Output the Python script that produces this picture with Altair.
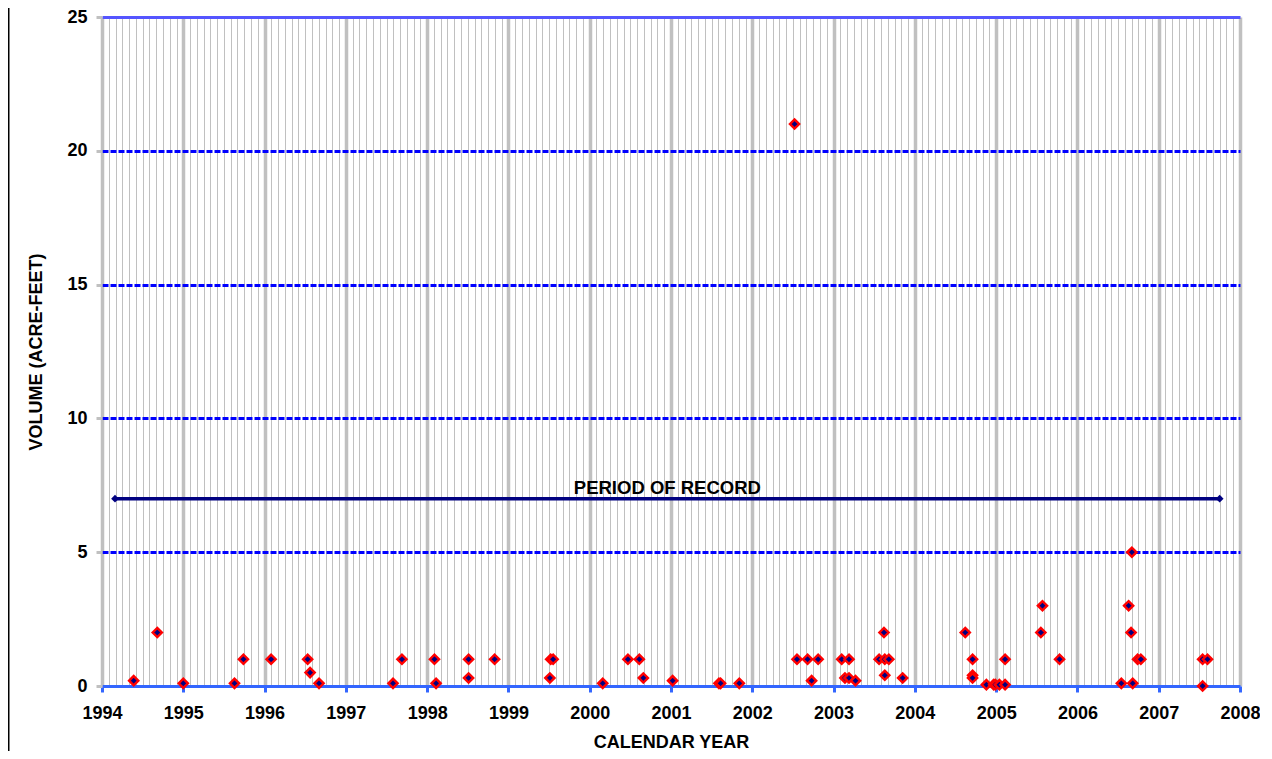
import altair as alt
import pandas as pd

# Data
years = [1994.39, 1994.68, 1995.00, 1995.63, 1995.74, 1996.08, 1996.53, 1996.56, 1996.67,
         1997.58, 1997.69, 1998.09, 1998.11, 1998.51, 1998.51, 1998.83, 1999.52, 1999.55,
         1999.51, 2000.16, 2000.47, 2000.61, 2000.66, 2001.02, 2001.59, 2001.61, 2001.84,
         2002.52, 2002.55, 2002.68, 2002.73, 2002.81, 2003.10, 2003.19, 2003.14, 2003.19,
         2003.27, 2003.56, 2003.62, 2003.63, 2003.63, 2003.68, 2003.85, 2004.62, 2004.71,
         2004.71, 2004.71, 2004.88, 2004.97, 2004.99, 2005.04, 2005.11, 2005.11, 2005.55,
         2005.57, 2005.78, 2006.54, 2006.63, 2006.66, 2006.67, 2006.68, 2006.74, 2006.78,
         2007.54, 2007.60, 2007.54]
volumes = [0.2, 2, 0.1, 0.1, 1, 1, 1, 0.5, 0.1,
           0.1, 1, 1, 0.1, 1, 0.3, 1, 1, 1,
           0.3, 0.1, 1, 1, 0.3, 0.2, 0.1, 0.1, 0.1,
           21, 1, 1, 0.2, 1, 1, 1, 0.3, 0.3,
           0.2, 1, 2, 1, 0.4, 1, 0.3, 2, 1,
           0.4, 0.3, 0.05, 0.05, 0.05, 0.05, 0.05, 1, 2,
           3, 1, 0.1, 3, 2, 5, 0.1, 1, 1,
           1, 1, 0.0]

period_years = [1994.16, 2007.75]
period_values = [7, 7]
period_label = "PERIOD OF RECORD"

year_ticks = list(range(1994, 2009))
month_ticks = [y + m / 12 for y in range(1994, 2008) for m in range(12)] + [2008]
y_ticks = [0, 5, 10, 15, 20, 25]

FONT = "Liberation Sans"
NAVY = "#000080"

df = pd.DataFrame({"year": years, "value": volumes})
df_period = pd.DataFrame({"year": period_years, "value": period_values})
df_label = pd.DataFrame({"year": [sum(period_years) / 2], "value": [period_values[0]],
                         "label": [period_label]})

is_year = "abs(datum.value - round(datum.value)) < 1e-6"

x_axis = alt.Axis(
    values=month_ticks,
    tickCount=1000,
    title="CALENDAR YEAR",
    titleFont=FONT, titleFontSize=18, titleFontWeight="bold", titleColor="black",
    titleY=61, titleBaseline="alphabetic",
    labelFont=FONT, labelFontSize=18, labelFontWeight="bold", labelColor="black",
    labelExpr=f"{is_year} ? format(datum.value, 'd') : ''",
    labelOverlap=False, labelFlush=False, labelPadding=12,
    domainColor="#3366FF", domainWidth=3,
    tickColor="#3366FF", tickWidth=3, tickSize=6,
    tickOpacity={"condition": {"test": is_year, "value": 1}, "value": 0},
    grid=True,
    gridColor="#C0C0C0",
    gridWidth={"condition": {"test": is_year, "value": 3.5}, "value": 1},
)

y_axis = alt.Axis(
    values=y_ticks,
    title="VOLUME (ACRE-FEET)",
    titleFont=FONT, titleFontSize=18, titleFontWeight="bold", titleColor="black",
    titleX=-66, titleY=334.5, titleAngle=270, titleBaseline="middle", titleAlign="center",
    labelFont=FONT, labelFontSize=18, labelFontWeight="bold", labelColor="black",
    labelPadding=9,
    domain=False,
    tickColor="#C0C0C0", tickWidth=3, tickSize=6,
    grid=True,
    gridColor={"condition": {"test": "datum.value == 25", "value": "#5555FF"}, "value": "#0000FF"},
    gridWidth=3,
    gridDash={"condition": {"test": "datum.value == 25", "value": [1, 0]}, "value": [6, 2]},
    gridOpacity={"condition": {"test": "datum.value == 0", "value": 0}, "value": 1},
)

x_scale = alt.Scale(domain=[1994, 2008], nice=False, zero=False)
y_scale = alt.Scale(domain=[0, 25], nice=False)

points = alt.Chart(df).mark_point(
    shape="diamond", filled=True, fill=NAVY, stroke="#FF0000",
    strokeWidth=2.4, size=85, opacity=1, fillOpacity=1, strokeOpacity=1
).encode(
    x=alt.X("year:Q", scale=x_scale, axis=x_axis),
    y=alt.Y("value:Q", scale=y_scale, axis=y_axis),
)

period_line = alt.Chart(df_period).mark_line(color=NAVY, strokeWidth=3.5).encode(
    x="year:Q", y="value:Q"
)
period_pts = alt.Chart(df_period).mark_point(
    shape="diamond", filled=True, color=NAVY, size=60, opacity=1
).encode(x="year:Q", y="value:Q")

period_text = alt.Chart(df_label).mark_text(
    font=FONT, fontSize=18.5, fontWeight="bold", color="black", baseline="middle", dy=-11
).encode(x="year:Q", y="value:Q", text="label:N")

border = alt.Chart(pd.DataFrame({"a": [0]})).mark_rule(color="black", strokeWidth=2).encode(
    x=alt.value(-93.5), y=alt.value(-9), y2=alt.value(734)
)

chart = alt.layer(period_line, period_pts, points, period_text, border).properties(
    width=1138, height=669,
    autosize=alt.AutoSizeParams(type="none"),
    padding={"left": 94, "top": 9, "right": 20, "bottom": 65},
    background="white",
).configure_view(stroke=None)

chart.save("out.html", embed_options={"renderer": "svg", "actions": False})
